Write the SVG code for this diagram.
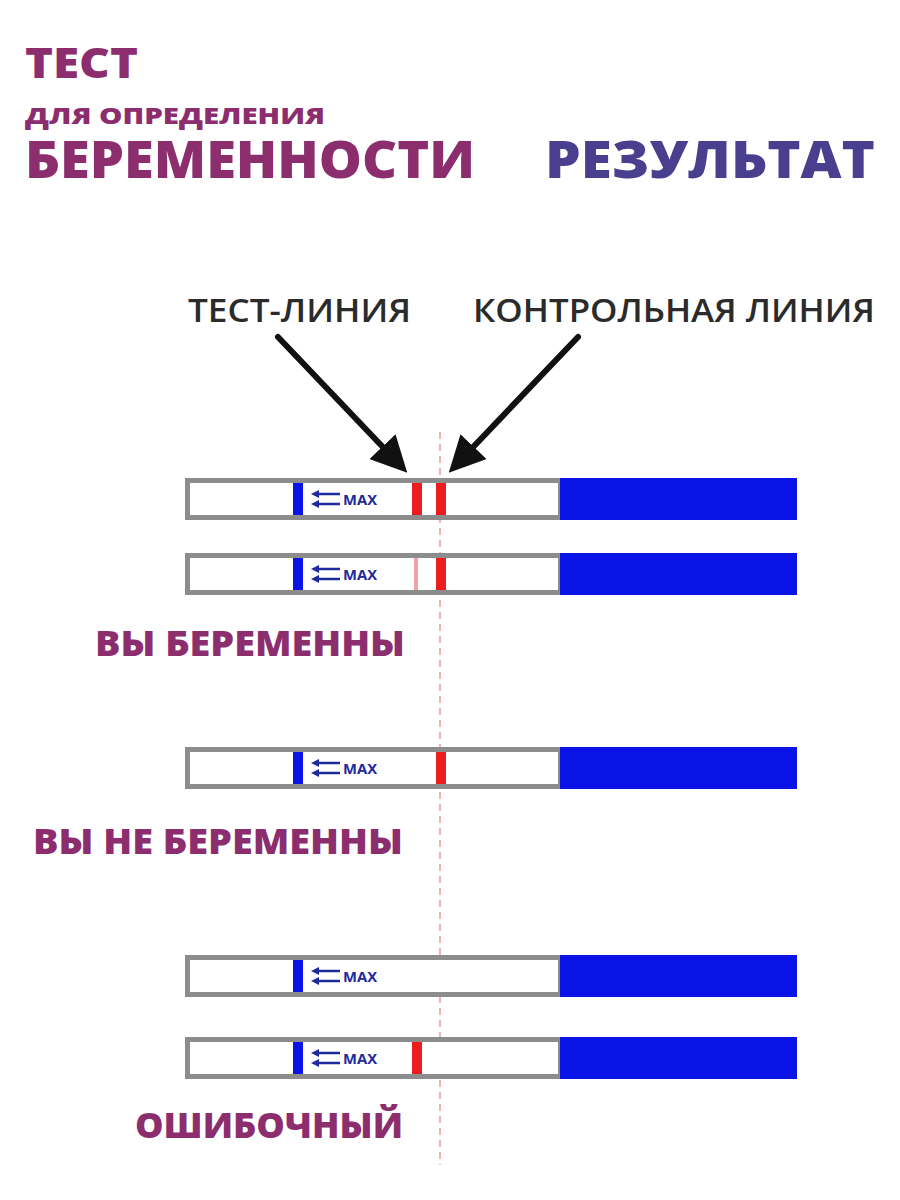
<svg xmlns="http://www.w3.org/2000/svg" width="900" height="1200" viewBox="0 0 900 1200">
<style>
.t{font-family:"Open Sans","Liberation Sans",sans-serif;font-weight:800}
.p{fill:#8c2d6e}
.s{fill:#fff;stroke:#8c8c8c;stroke-width:5}
.b{fill:#0a14e6}
.r{fill:#ee1c1c}
.ar{stroke:#1f2a9c;stroke-width:2.5}
.mx{font-family:"Open Sans","Liberation Sans",sans-serif;font-weight:700;font-size:14px;fill:#1f2a9c}
.lab{font-family:"Open Sans","Liberation Sans",sans-serif;font-weight:600;font-size:33px;fill:#2b2b2b}
</style>
<defs>
<marker id="ah" markerWidth="6" markerHeight="6" refX="4" refY="3" orient="auto" markerUnits="strokeWidth"><path d="M0,0 L6,3 L0,6 Z" fill="#111"/></marker>
<g id="strip">
<rect class="s" x="187.5" y="2.5" width="373" height="37"/>
<rect class="b" x="560" y="0" width="237" height="42"/>
<rect class="b" x="293" y="5" width="10" height="32"/>
<line class="ar" x1="316" y1="16" x2="340" y2="16"/><path d="M311,16 L319,12 L319,20 Z" fill="#1f2a9c"/>
<line class="ar" x1="316" y1="26" x2="340" y2="26"/><path d="M311,26 L319,22 L319,30 Z" fill="#1f2a9c"/>
<text class="mx" x="343" y="27" textLength="34" lengthAdjust="spacingAndGlyphs">MAX</text>
</g>
</defs>
<text class="t p" x="25" y="78" font-size="42" textLength="113" lengthAdjust="spacingAndGlyphs">ТЕСТ</text>
<text class="t p" x="25" y="124" font-size="22" textLength="300" lengthAdjust="spacingAndGlyphs">ДЛЯ ОПРЕДЕЛЕНИЯ</text>
<text class="t p" x="25" y="178" font-size="52" textLength="450" lengthAdjust="spacingAndGlyphs">БЕРЕМЕННОСТИ</text>
<text class="t" x="545" y="178" font-size="52" fill="#4a3f8f" textLength="330" lengthAdjust="spacingAndGlyphs">РЕЗУЛЬТАТ</text>
<text class="lab" x="188" y="322" textLength="223" lengthAdjust="spacingAndGlyphs">ТЕСТ-ЛИНИЯ</text>
<text class="lab" x="473" y="322" textLength="402" lengthAdjust="spacingAndGlyphs">КОНТРОЛЬНАЯ ЛИНИЯ</text>
<line x1="440" y1="432" x2="440" y2="1165" stroke="#e89a9a" stroke-width="1.5" stroke-dasharray="7,5"/>
<g id="s1" transform="translate(0,478)"><use href="#strip"/><rect class="r" x="412" y="5" width="10" height="32"/><rect class="r" x="436" y="5" width="10" height="32"/></g>
<g id="s2" transform="translate(0,553)"><use href="#strip"/><rect x="414" y="5" width="4" height="32" fill="#f4a0a0"/><rect class="r" x="436" y="5" width="10" height="32"/></g>
<g id="s3" transform="translate(0,747)"><use href="#strip"/><rect class="r" x="436" y="5" width="10" height="32"/></g>
<g id="s4" transform="translate(0,955)"><use href="#strip"/></g>
<g id="s5" transform="translate(0,1037)"><use href="#strip"/><rect class="r" x="412" y="5" width="10" height="32"/></g>
<g id="connectors" stroke="#111" stroke-width="6" stroke-linecap="round">
<line x1="278" y1="337" x2="399" y2="464" marker-end="url(#ah)"/>
<line x1="578" y1="337" x2="457" y2="464" marker-end="url(#ah)"/>
</g>
<text class="t p" x="95" y="656" font-size="36" textLength="310" lengthAdjust="spacingAndGlyphs">ВЫ БЕРЕМЕННЫ</text>
<text class="t p" x="33" y="854" font-size="36" textLength="370" lengthAdjust="spacingAndGlyphs">ВЫ НЕ БЕРЕМЕННЫ</text>
<text class="t p" x="135" y="1138" font-size="36" textLength="268" lengthAdjust="spacingAndGlyphs">ОШИБОЧНЫЙ</text>
</svg>
